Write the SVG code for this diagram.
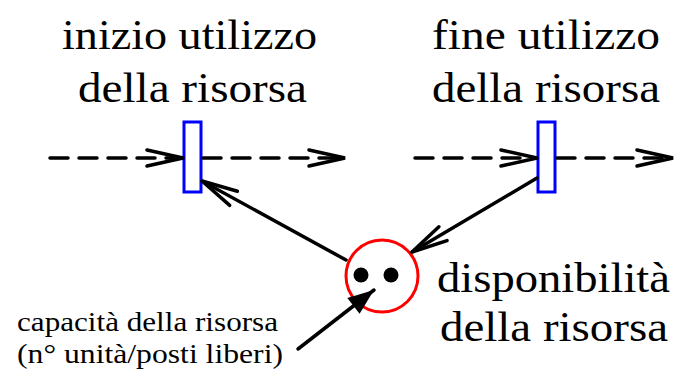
<svg xmlns="http://www.w3.org/2000/svg" width="674" height="376" viewBox="0 0 674 376">
<style>
  text { font-family: 'Liberation Serif', 'Times New Roman', 'DejaVu Serif', serif; fill: #000; }
  .big { font-size: 43px; }
  .small { font-size: 28px; }
  .dash { stroke: #000; stroke-width: 3.5; fill: none; stroke-dasharray: 18 11; stroke-linecap: round; }
  .solid { stroke: #000; stroke-width: 3.5; fill: none; stroke-linecap: round; }
  .trans { fill: #fff; stroke: #0000ff; stroke-width: 3; }
  .place { fill: #fff; stroke: #ff0000; stroke-width: 3; }
</style>
<defs>
  <marker id="open" markerUnits="userSpaceOnUse" viewBox="-40 -12 44 24" refX="0" refY="0" markerWidth="44" markerHeight="24" orient="auto" overflow="visible">
    <path d="M -36 -8 L 0 0 L -36 8" fill="none" stroke="#000" stroke-width="3.5" stroke-linecap="round" stroke-linejoin="miter"/>
  </marker>
  <marker id="filled" markerUnits="userSpaceOnUse" viewBox="-30 -12 32 24" refX="0" refY="0" markerWidth="32" markerHeight="24" orient="auto" overflow="visible">
    <path d="M -26 -10 L 0 0 L -26 10 Z" fill="#000" stroke="none"/>
  </marker>
</defs>

<g id="t-inizio">
  <rect class="trans" x="184" y="122" width="17" height="70"/>
  <text class="big" x="62" y="49" textLength="255" lengthAdjust="spacingAndGlyphs">inizio utilizzo</text>
  <text class="big" x="78" y="102" textLength="229" lengthAdjust="spacingAndGlyphs">della risorsa</text>
</g>

<g id="t-fine">
  <rect class="trans" x="538" y="122" width="17" height="70"/>
  <text class="big" x="432" y="49" textLength="228" lengthAdjust="spacingAndGlyphs">fine utilizzo</text>
  <text class="big" x="432" y="102" textLength="228" lengthAdjust="spacingAndGlyphs">della risorsa</text>
</g>

<g id="p-disponibilita">
  <circle class="place" cx="382" cy="276" r="36"/>
  <circle cx="361" cy="275" r="7.5" fill="#000"/>
  <circle cx="391" cy="275" r="7.5" fill="#000"/>
  <text class="big" x="437" y="292" textLength="233" lengthAdjust="spacingAndGlyphs">disponibilità</text>
  <text class="big" x="440" y="341" textLength="228" lengthAdjust="spacingAndGlyphs">della risorsa</text>
</g>

<g id="capacita-label">
  <text class="small" x="17" y="331" textLength="261" lengthAdjust="spacingAndGlyphs">capacità della risorsa</text>
  <text class="small" x="17" y="363" textLength="266" lengthAdjust="spacingAndGlyphs">(n° unità/posti liberi)</text>
</g>

<g id="connectors">
  <line class="dash" x1="50" y1="158" x2="183" y2="158" marker-end="url(#open)"/>
  <line class="dash" x1="203" y1="158" x2="345" y2="158" marker-end="url(#open)"/>
  <line class="dash" x1="415" y1="158" x2="537" y2="158" marker-end="url(#open)"/>
  <line class="dash" x1="557" y1="158" x2="673" y2="158" marker-end="url(#open)"/>
  <line class="solid" x1="346" y1="260" x2="202" y2="181" marker-end="url(#open)"/>
  <line class="solid" x1="537" y1="178" x2="412" y2="252" marker-end="url(#open)"/>
  <line class="solid" x1="298" y1="349" x2="374" y2="290" marker-end="url(#filled)"/>
</g>
</svg>
